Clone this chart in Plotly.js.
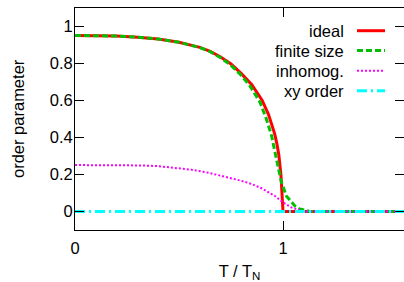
<!DOCTYPE html>
<html>
<head>
<meta charset="utf-8">
<script src="https://cdn.plot.ly/plotly-3.0.1.min.js"></script>
<style>html,body{margin:0;padding:0;background:#fff;}#chart{width:404px;height:282px;}</style>
</head>
<body>
<div id="chart"></div>
<script>
// ---- data ----
const seriesNames = ["ideal", "finite size", "inhomog.", "xy order"];

const tIdeal = [0, 0.1, 0.2, 0.3, 0.4, 0.5, 0.6, 0.65, 0.7, 0.75, 0.8, 0.85, 0.9, 0.93, 0.95, 0.96, 0.97, 0.98, 0.99, 0.995, 0.999, 1.0, 1.6];
const mIdeal = [0.952, 0.951, 0.948, 0.942, 0.932, 0.915, 0.887, 0.866, 0.835, 0.797, 0.745, 0.685, 0.60, 0.525, 0.46, 0.42, 0.37, 0.305, 0.20, 0.12, 0.05, 0, 0];

const tFinite = [0, 0.1, 0.2, 0.3, 0.4, 0.5, 0.6, 0.65, 0.7, 0.75, 0.8, 0.84, 0.89, 0.92, 0.945, 0.962, 0.978, 0.993, 1.017, 1.04, 1.058, 1.08, 1.1, 1.13, 1.6];
const mFinite = [0.952, 0.951, 0.948, 0.942, 0.932, 0.915, 0.886, 0.864, 0.831, 0.79, 0.735, 0.68, 0.59, 0.50, 0.41, 0.318, 0.228, 0.155, 0.083, 0.05, 0.029, 0.014, 0.007, 0, 0];

const tInhom = [0, 0.1, 0.2, 0.32, 0.4, 0.48, 0.56, 0.64, 0.72, 0.8, 0.85, 0.9, 0.96, 1.0, 1.04, 1.07, 1.1, 1.6];
const mInhom = [0.251, 0.251, 0.251, 0.249, 0.245, 0.237, 0.226, 0.21, 0.19, 0.166, 0.148, 0.124, 0.085, 0.049, 0.022, 0.01, 0, 0];

const tXY = [0, 1.6];
const mXY = [0, 0];

const xTickVals = [0, 1];
const xTickText = ["0", "1"];
const yTickVals = [0, 0.2, 0.4, 0.6, 0.8, 1];
const yTickText = ["0", "0.2", "0.4", "0.6", "0.8", "1"];

// ---- styles ----
const styles = [
  {color: "#ff0000", width: 3, dash: "solid"},
  {color: "#00c000", width: 3, dash: "6px,3px"},
  {color: "#ff00ff", width: 2, dash: "2px,2px"},
  {color: "#00ffff", width: 3, dash: "10px,4px,2px,4px"}
];
const xs = [tIdeal, tFinite, tInhom, tXY];
const ys = [mIdeal, mFinite, mInhom, mXY];

const traces = seriesNames.map((n, i) => ({
  x: xs[i], y: ys[i], name: n, type: "scatter", mode: "lines",
  line: {color: styles[i].color, width: styles[i].width, dash: styles[i].dash},
  showlegend: false, hoverinfo: "skip"
}));
// invisible trace to host right-hand mirrored ticks
traces.push({x: [0], y: [0], yaxis: "y2", mode: "markers", marker: {opacity: 0}, showlegend: false, hoverinfo: "skip"});

const FONT = "Liberation Sans, Arial, Helvetica, sans-serif";
const W = 404, H = 282, mL = 75, mR = 0, mT = 8, mB = 52;
const pw = W - mL - mR, ph = H - mT - mB;

// manual legend (text left of sample, as in reference)
const legRowsPx = [30.7, 50.6, 70.7, 90.7];
const legTextRightPx = 346, legLineX0 = 357, legLineX1 = 385;
const shapes = [], annotations = [];
seriesNames.forEach((n, i) => {
  const yp = (H - mB - legRowsPx[i]) / ph;
  shapes.push({type: "line", xref: "paper", yref: "paper",
    x0: (legLineX0 - mL) / pw, x1: (legLineX1 - mL) / pw, y0: yp, y1: yp,
    line: {color: styles[i].color, width: styles[i].width, dash: styles[i].dash}});
  annotations.push({xref: "paper", yref: "paper", x: (legTextRightPx - mL) / pw, y: yp,
    xanchor: "right", yanchor: "middle", text: n, showarrow: false,
    font: {family: FONT, size: 16.5, color: "#000"}});
});
// y-axis title placed as a rotated annotation at the reference position
annotations.push({xref: "paper", yref: "paper", x: (18 - mL) / pw, y: 0.5,
  xanchor: "center", yanchor: "middle", textangle: -90, text: "order parameter",
  showarrow: false, font: {family: FONT, size: 16.5, color: "#000"}});

const yr = [-0.1, 1.1];
const layout = {
  width: W, height: H,
  margin: {l: mL, r: mR, t: mT, b: mB, pad: 0},
  paper_bgcolor: "#fff", plot_bgcolor: "#fff",
  font: {family: FONT, size: 16.5, color: "#000"},
  showlegend: false,
  xaxis: {
    range: [0, pw / 208], tickvals: xTickVals, ticktext: xTickText,
    ticks: "inside", ticklen: 9, tickwidth: 1, tickcolor: "#000",
    showline: true, linecolor: "#000", linewidth: 1, mirror: "ticks",
    showgrid: false, zeroline: false, automargin: false,
    ticklabelstandoff: 3,
    tickfont: {family: FONT, size: 16.5, color: "#000"},
    title: {text: "T / T<sub>N</sub>", font: {family: FONT, size: 16.5, color: "#000"}}
  },
  yaxis: {
    range: yr, tickvals: yTickVals, ticktext: yTickText,
    ticks: "inside", ticklen: 9, tickwidth: 1, tickcolor: "#000",
    showline: true, linecolor: "#000", linewidth: 1, mirror: false,
    showgrid: false, zeroline: false, automargin: false,
    ticklabelstandoff: -2,
    tickfont: {family: FONT, size: 16.5, color: "#000"}
  },
  yaxis2: {
    overlaying: "y", side: "right", range: yr, tickvals: yTickVals,
    ticks: "inside", ticklen: 9, tickwidth: 1, tickcolor: "#000",
    showticklabels: false, showline: false, showgrid: false, zeroline: false, automargin: false
  },
  shapes: shapes, annotations: annotations
};

Plotly.newPlot("chart", traces, layout, {staticPlot: true, displayModeBar: false});
</script>
</body>
</html>
